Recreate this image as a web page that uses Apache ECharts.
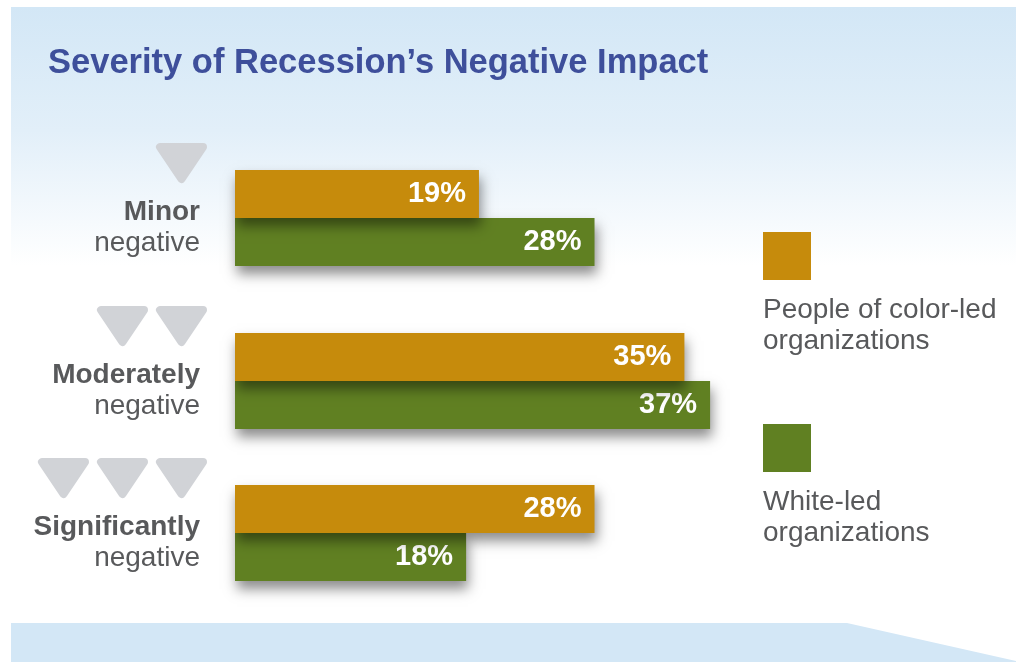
<!DOCTYPE html>
<html>
<head>
<meta charset="utf-8">
<script src="https://cdn.jsdelivr.net/npm/echarts@6/dist/echarts.min.js"></script>
<style>
  html, body { margin: 0; padding: 0; background: #ffffff; }
  #chart { width: 1016px; height: 662px; }
</style>
</head>
<body>
<div id="chart"></div>
<script>
// ---- data ----
const titleText = 'Severity of Recession\u2019s Negative Impact';
const categories = ['Minor', 'Moderately', 'Significantly'];
const categorySub = 'negative';
const severityLevel = [1, 2, 3];
const seriesNames = ['People of color-led organizations', 'White-led organizations'];
const legendLines = [['People of color-led', 'organizations'], ['White-led', 'organizations']];
const pocValues = [19, 35, 28];
const whiteValues = [28, 37, 18];

// ---- style / layout ----
const ORANGE = '#c68b0c';
const GREEN = '#608022';
const GREY_TEXT = '#58595b';
const TRI = '#d1d3d7';
const FONT = '"Liberation Sans", Arial, sans-serif';
const gridTops = [170, 333, 485];
const gridHeight = 96;
const labelShift = [10, 10, 10];

const chart = echarts.init(document.getElementById('chart'), null, { renderer: 'canvas' });

const grids = [], xAxes = [], yAxes = [], series = [];
categories.forEach((cat, i) => {
  grids.push({ left: 235, width: 642, top: gridTops[i], height: gridHeight, containLabel: false });
  xAxes.push({ gridIndex: i, type: 'value', min: 0, max: 50, show: false });
  const s = labelShift[i];
  yAxes.push({
    gridIndex: i, type: 'category', data: [cat],
    axisLine: { show: false }, axisTick: { show: false }, splitLine: { show: false },
    axisLabel: {
      margin: 35,
      padding: s >= 0 ? [2 * s, 0, 0, 0] : [0, 0, -2 * s, 0],
      formatter: v => '{b|' + v + '}\n{n|' + categorySub + '}',
      rich: {
        b: { fontFamily: FONT, fontSize: 28, fontWeight: 'bold', color: GREY_TEXT, lineHeight: 31, align: 'right' },
        n: { fontFamily: FONT, fontSize: 28, color: GREY_TEXT, lineHeight: 31, align: 'right' }
      }
    }
  });
  const common = {
    type: 'bar', xAxisIndex: i, yAxisIndex: i, barWidth: 48, barGap: '0%',
    label: {
      show: true, position: 'insideRight', distance: 13, formatter: '{c}%',
      color: '#ffffff', fontFamily: FONT, fontSize: 29, fontWeight: 'bold'
    }
  };
  // first series sits on top within each band; drawn with higher z so its shadow falls on the green bar
  series.push(Object.assign({}, common, {
    name: seriesNames[0], data: [pocValues[i]], z: 3,
    itemStyle: { color: ORANGE, shadowBlur: 12, shadowColor: 'rgba(0,0,0,0.45)', shadowOffsetX: 2, shadowOffsetY: 8 }
  }));
  series.push(Object.assign({}, common, {
    name: seriesNames[1], data: [whiteValues[i]], z: 2,
    itemStyle: { color: GREEN, shadowBlur: 12, shadowColor: 'rgba(0,0,0,0.45)', shadowOffsetX: 2, shadowOffsetY: 8 }
  }));
});

chart.setOption({
  backgroundColor: '#ffffff',
  animation: false,
  title: {
    text: titleText, left: 48, top: 46, padding: 0,
    textStyle: { fontFamily: FONT, fontSize: 34.5, fontWeight: 'bold', color: '#3e4f9b' }
  },
  grid: grids, xAxis: xAxes, yAxis: yAxes, series: series
});

// ---- decorative graphics ----
const g = [];
g.push({
  type: 'rect', z: -10, silent: true,
  shape: { x: 11, y: 7, width: 1005, height: 616 },
  style: {
    fill: new echarts.graphic.LinearGradient(0, 0, 0, 1, [
      { offset: 0, color: '#d3e7f6' },
      { offset: 0.2, color: '#e2eff9' },
      { offset: 0.42, color: '#ffffff' },
      { offset: 1, color: '#ffffff' }
    ])
  }
});
g.push({
  type: 'polygon', z: -10, silent: true,
  shape: { points: [[11, 623], [847, 623], [1016, 661], [1016, 662], [11, 662]] },
  style: { fill: '#d3e7f6' }
});
categories.forEach((cat, i) => {
  const cy = chart.convertToPixel({ yAxisIndex: i }, cat);
  const top = cy - 75;
  for (let k = 0; k < severityLevel[i]; k++) {
    const right = 208 - k * 59;
    const x0 = right - 53;
    g.push({
      type: 'polygon', silent: true,
      shape: { points: [[x0 + 5, top + 4], [x0 + 48, top + 4], [x0 + 26.5, top + 36]] },
      style: { fill: TRI, stroke: TRI, lineWidth: 8, lineJoin: 'round' }
    });
  }
});
const legendColors = [ORANGE, GREEN];
const legendTops = [232, 424];
legendLines.forEach((lines, i) => {
  g.push({
    type: 'rect', silent: true,
    shape: { x: 763, y: legendTops[i], width: 48, height: 48 },
    style: { fill: legendColors[i] }
  });
  g.push({
    type: 'text', silent: true,
    x: 763, y: legendTops[i] + 63,
    style: {
      text: lines.join('\n'), fill: GREY_TEXT, font: '28px ' + FONT,
      lineHeight: 31, verticalAlign: 'top', align: 'left'
    }
  });
});

chart.setOption({ graphic: { elements: g } });
</script>
</body>
</html>
